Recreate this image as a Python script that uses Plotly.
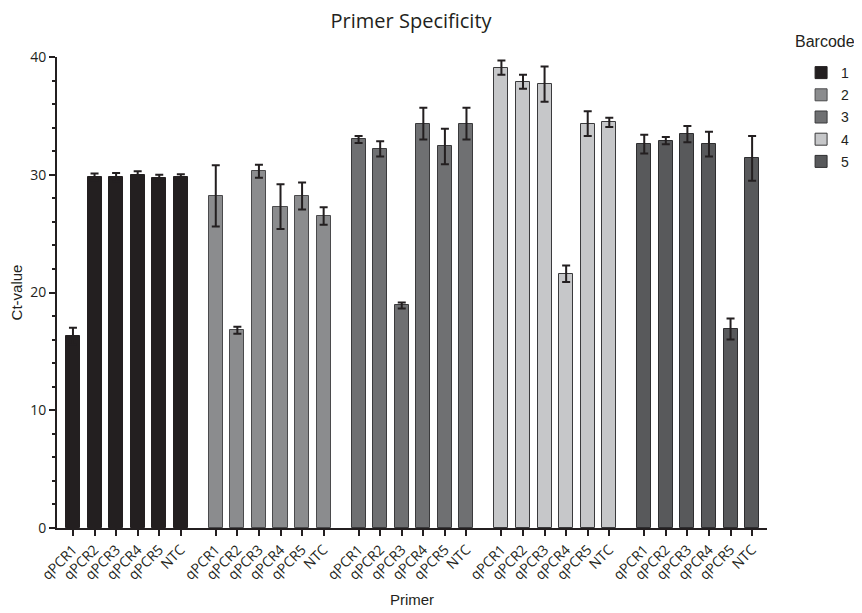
import plotly.graph_objects as go

primers = ["qPCR1", "qPCR2", "qPCR3", "qPCR4", "qPCR5", "NTC"]
barcodes = ["1", "2", "3", "4", "5"]

ct_b1 = [16.3, 29.8, 29.8, 30.0, 29.7, 29.8]
ct_b2 = [28.2, 16.8, 30.3, 27.3, 28.2, 26.5]
ct_b3 = [33.0, 32.2, 18.9, 34.35, 32.4, 34.35]
ct_b4 = [39.1, 37.9, 37.7, 21.6, 34.35, 34.45]
ct_b5 = [32.6, 32.9, 33.45, 32.6, 16.9, 31.4]

err_b1 = [0.7, 0.3, 0.35, 0.3, 0.3, 0.25]
err_b2 = [2.6, 0.3, 0.55, 1.9, 1.15, 0.75]
err_b3 = [0.3, 0.65, 0.25, 1.35, 1.5, 1.35]
err_b4 = [0.6, 0.6, 1.5, 0.7, 1.05, 0.4]
err_b5 = [0.8, 0.3, 0.7, 1.05, 0.9, 1.9]

values = [ct_b1, ct_b2, ct_b3, ct_b4, ct_b5]
errors = [err_b1, err_b2, err_b3, err_b4, err_b5]
colors = ["#231f20", "#8b8c8e", "#6f7072", "#c6c7c9", "#58595b"]
outlines = ["#231f20", "#4a4a4c", "#3a3a3c", "#3a3a3c", "#2e2e30"]

GROUP_STEP = 6.62
ink = "#231f20"

fig = go.Figure()
tickvals, ticktext = [], []
for g, (name, vals, errs) in enumerate(zip(barcodes, values, errors)):
    xs = [g * GROUP_STEP + i for i in range(len(primers))]
    tickvals += xs
    ticktext += primers
    fig.add_trace(go.Bar(
        x=xs, y=vals, name=name, width=0.65,
        marker=dict(color=colors[g], line=dict(color=outlines[g], width=1)),
        error_y=dict(type="data", array=errs, visible=True,
                     color=ink, thickness=2, width=4),
        legendgroup=name,
    ))

# page has an 8px body margin, so the figure is 8px smaller than the window
fig.update_layout(
    width=854, height=605,
    plot_bgcolor="white", paper_bgcolor="white",
    margin=dict(l=49, r=95, t=49, b=85, autoexpand=False),
    title=dict(text="Primer Specificity", x=0.472, xanchor="center", y=0.9785, yanchor="middle",
               font=dict(family="Open Sans", size=20, color=ink)),
    showlegend=True,
    legend=dict(
        x=1.048, xanchor="left", y=1.0, yanchor="top",
        font=dict(family="Liberation Sans", size=14, color=ink),
        tracegroupgap=1, bgcolor="rgba(0,0,0,0)",
    ),
    annotations=[dict(
        text="Barcode", xref="paper", yref="paper", x=1.0817, y=1.032,
        xanchor="center", yanchor="middle", showarrow=False,
        font=dict(family="Liberation Sans", size=16, color=ink),
    )],
    bargap=0,
)

fig.update_xaxes(
    range=[-0.74, 4 * GROUP_STEP + 5 + 0.69],
    tickmode="array", tickvals=tickvals, ticktext=ticktext,
    tickangle=-45, ticks="outside", ticklen=6, tickwidth=2, tickcolor=ink,
    showline=True, linewidth=2, linecolor=ink, showgrid=False, zeroline=False,
    tickfont=dict(family="Open Sans", size=14, color=ink),
    title=dict(text="Primer", font=dict(family="Liberation Sans", size=15, color=ink), standoff=12),
)

fig.update_yaxes(
    range=[0, 40], tickvals=[0, 10, 20, 30, 40],
    ticks="outside", ticklen=6, tickwidth=2, tickcolor=ink,
    minor=dict(dtick=2, ticks="outside", ticklen=3, tickwidth=2, tickcolor=ink, showgrid=False),
    showline=True, linewidth=2, linecolor=ink, showgrid=False, zeroline=False,
    tickfont=dict(family="Open Sans", size=14, color=ink),
    title=dict(text="Ct-value", font=dict(family="Liberation Sans", size=15, color=ink), standoff=8),
)

fig.write_html("out.html")
